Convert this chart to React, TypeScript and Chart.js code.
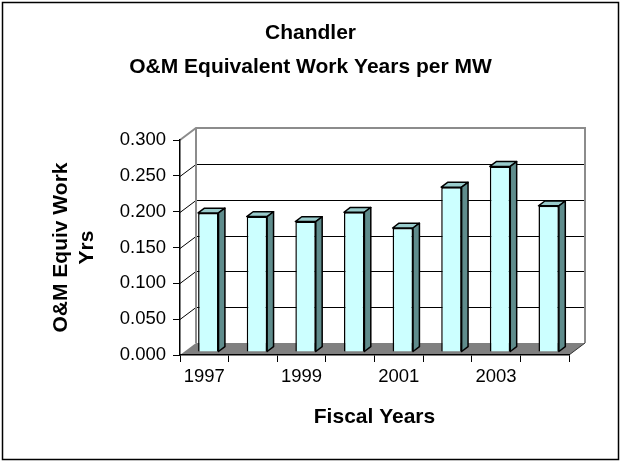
import React, { useEffect, useRef } from 'react';
import { Chart, registerables } from 'chart.js';

Chart.register(...registerables);

const categories = ['1997', '1998', '1999', '2000', '2001', '2002', '2003', '2004'];
const workYears = [0.194, 0.189, 0.182, 0.195, 0.173, 0.23, 0.259, 0.204];
const yTickValues = [0, 0.05, 0.1, 0.15, 0.2, 0.25, 0.3];
const titleLines = ['Chandler', 'O&M Equivalent Work Years per MW'];
const yTitleLines = ['O&M Equiv Work', 'Yrs'];
const xTitle = 'Fiscal Years';

const FONT = '"Liberation Sans", Arial, Helvetica, sans-serif';
const DEPTH = { x: 16, y: -12 };
const BAR_FRONT = 0.25;
const BAR_DEPTH = 0.4;

const threeD = {
  id: 'threeD',
  beforeDraw(chart: any) {
    const { ctx, chartArea: a, scales } = chart;
    const ys = scales.y;
    const dx = DEPTH.x;
    const dy = DEPTH.y;
    ctx.save();
    // outer chart border
    ctx.strokeStyle = '#000';
    ctx.lineWidth = 1.5;
    ctx.strokeRect(2.5, 2.5, chart.width - 5, chart.height - 5);

    // back wall
    ctx.fillStyle = '#fff';
    ctx.fillRect(a.left + dx, a.top + dy, a.right - a.left, a.bottom - a.top);
    // floor
    ctx.fillStyle = '#808080';
    ctx.beginPath();
    ctx.moveTo(a.left, a.bottom);
    ctx.lineTo(a.right, a.bottom);
    ctx.lineTo(a.right + dx, a.bottom + dy);
    ctx.lineTo(a.left + dx, a.bottom + dy);
    ctx.closePath();
    ctx.fill();
    ctx.strokeStyle = '#333';
    ctx.lineWidth = 1;
    ctx.beginPath();
    ctx.moveTo(a.right, a.bottom);
    ctx.lineTo(a.right + dx, a.bottom + dy);
    ctx.stroke();

    // gridlines on back wall and side wall
    ctx.strokeStyle = '#000';
    ctx.lineWidth = 1;
    for (const v of yTickValues) {
      if (v <= 0 || v >= 0.3) continue;
      const py = Math.round(ys.getPixelForValue(v)) + 0.5;
      ctx.beginPath();
      ctx.moveTo(a.left, py);
      ctx.lineTo(a.left + dx, py + dy);
      ctx.lineTo(a.right + dx, py + dy);
      ctx.stroke();
    }

    // wall outlines
    ctx.strokeStyle = '#8c8c8c';
    ctx.lineWidth = 2;
    ctx.beginPath();
    ctx.moveTo(a.left, a.top);
    ctx.lineTo(a.left + dx, a.top + dy);
    ctx.lineTo(a.right + dx, a.top + dy);
    ctx.lineTo(a.right + dx, a.bottom + dy);
    ctx.moveTo(a.left + dx, a.top + dy);
    ctx.lineTo(a.left + dx, a.bottom + dy);
    ctx.stroke();
    ctx.restore();
  },
  beforeDatasetsDraw(chart: any) {
    chart.ctx.save();
    chart.ctx.translate(BAR_FRONT * DEPTH.x, BAR_FRONT * DEPTH.y);
  },
  afterDatasetsDraw(chart: any) {
    const { ctx } = chart;
    ctx.restore();
    const ox = BAR_FRONT * DEPTH.x;
    const oy = BAR_FRONT * DEPTH.y;
    const ddx = BAR_DEPTH * DEPTH.x;
    const ddy = BAR_DEPTH * DEPTH.y;
    const meta = chart.getDatasetMeta(0);
    ctx.save();
    ctx.strokeStyle = '#000';
    ctx.lineWidth = 1.5;
    ctx.lineJoin = 'round';
    for (const el of meta.data) {
      const p = el.getProps(['x', 'y', 'base', 'width'], true);
      const left = p.x - p.width / 2 + ox;
      const right = p.x + p.width / 2 + ox;
      const top = p.y + oy;
      const base = p.base + oy;
      // top face
      ctx.fillStyle = '#99CCCC';
      ctx.beginPath();
      ctx.moveTo(left, top);
      ctx.lineTo(left + ddx, top + ddy);
      ctx.lineTo(right + ddx, top + ddy);
      ctx.lineTo(right, top);
      ctx.closePath();
      ctx.fill();
      ctx.stroke();
      // side face
      ctx.fillStyle = '#5F8C8C';
      ctx.beginPath();
      ctx.moveTo(right, top);
      ctx.lineTo(right + ddx, top + ddy);
      ctx.lineTo(right + ddx, base + ddy);
      ctx.lineTo(right, base);
      ctx.closePath();
      ctx.fill();
      ctx.stroke();
    }
    ctx.restore();
  },
};

export default function App() {
  const canvasRef = useRef<HTMLCanvasElement | null>(null);

  useEffect(() => {
    const canvas = canvasRef.current;
    if (!canvas) return;
    const chart = new Chart(canvas, {
      type: 'bar',
      data: {
        labels: categories,
        datasets: [
          {
            label: 'O&M Equiv Work Yrs',
            data: workYears,
            backgroundColor: '#CCFFFF',
            borderColor: '#000',
            borderWidth: 1.5,
            barPercentage: 0.42,
            categoryPercentage: 1,
          },
        ],
      },
      options: {
        responsive: false,
        animation: false,
        devicePixelRatio: 1,
        layout: { padding: { left: 52, right: 52, top: 0, bottom: 0 } },
        plugins: {
          legend: { display: false },
          tooltip: { enabled: false },
          title: {
            display: true,
            text: titleLines,
            color: '#000',
            font: { family: FONT, size: 21, weight: 'bold', lineHeight: 34 / 21 },
            padding: { top: 16, bottom: 56 },
          },
        },
        scales: {
          x: {
            ticks: {
              autoSkip: false,
              maxRotation: 0,
              color: '#000',
              padding: 4,
              font: { family: FONT, size: 18.5 },
              callback: (_v: any, i: number) => (i % 2 === 0 ? categories[i] : ''),
            },
            grid: {
              display: true,
              drawOnChartArea: false,
              drawTicks: true,
              tickLength: 7,
              color: '#000',
              offset: true,
            },
            border: { display: true, color: '#000', width: 1.5 },
            title: {
              display: true,
              text: xTitle,
              color: '#000',
              font: { family: FONT, size: 21, weight: 'bold', lineHeight: 1.2 },
              padding: { top: 0, bottom: 32 },
            },
            afterFit: (s: any) => {
              s.height = 107;
            },
          },
          y: {
            min: 0,
            max: 0.3,
            ticks: {
              stepSize: 0.05,
              color: '#000',
              padding: 7,
              font: { family: FONT, size: 18.5 },
              callback: (v: any) => Number(v).toFixed(3),
            },
            grid: {
              display: true,
              drawOnChartArea: false,
              drawTicks: true,
              tickLength: 7,
              color: '#000',
            },
            border: { display: true, color: '#000', width: 1.5 },
            title: {
              display: true,
              text: yTitleLines,
              color: '#000',
              font: { family: FONT, size: 21, weight: 'bold', lineHeight: 26 / 21 },
              padding: { top: -4, bottom: 0 },
            },
            afterFit: (s: any) => {
              s.width = 128;
            },
          },
        },
      },
      plugins: [threeD],
    });
    return () => chart.destroy();
  }, []);

  return (
    <div style={{ position: 'absolute', left: 0, top: 0, width: 621, height: 462, background: '#fff' }}>
      <canvas ref={canvasRef} width={621} height={462} style={{ display: 'block' }} />
    </div>
  );
}
